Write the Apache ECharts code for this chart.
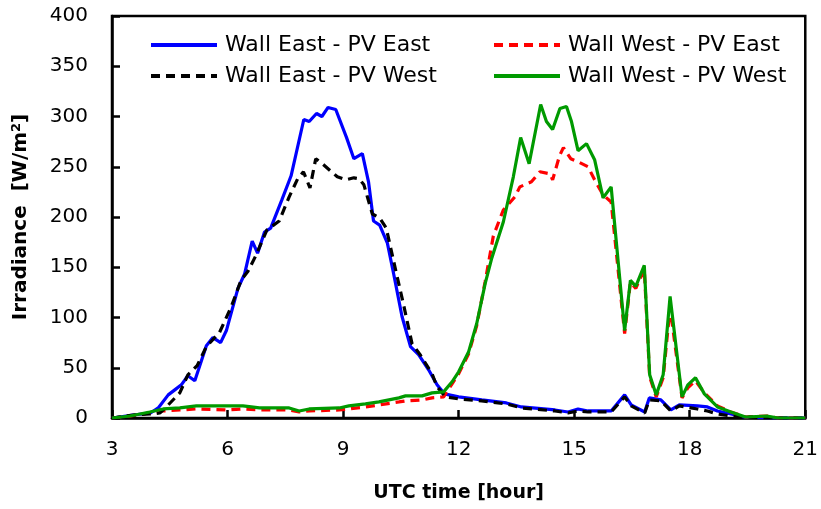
<!DOCTYPE html>
<html lang="en">
<head>
    <meta charset="UTF-8">
    <title>Irradiance</title>
    <script src="https://cdn.jsdelivr.net/npm/echarts@6/dist/echarts.min.js"></script>
</head>
<body style="margin:0">
<div id="main" style="width: 821px;height:509px;"></div>
<script type="text/javascript">
    // series: hour (UTC) and irradiance (W/m2)
    var eastEastT = [3.0, 3.55, 4.0, 4.2, 4.46, 4.63, 4.8, 4.97, 5.15, 5.45, 5.62, 5.82, 5.97, 6.27, 6.44, 6.64, 6.78, 6.96, 7.12, 7.41, 7.65, 7.98, 8.12, 8.31, 8.45, 8.61, 8.81, 9.09, 9.28, 9.5, 9.66, 9.79, 9.95, 10.15, 10.32, 10.53, 10.75, 10.96, 11.22, 11.44, 11.63, 12.0, 12.6, 13.24, 13.63, 14.5, 14.84, 15.1, 15.36, 15.96, 16.31, 16.48, 16.83, 16.95, 17.25, 17.51, 17.73, 18.2, 18.46, 18.72, 19.07, 19.41, 20.0, 21.0];
    var eastEastV = [0, 3, 5, 10, 23, 28, 33, 42, 37, 72, 80, 75, 87, 129, 143, 176, 164, 185, 189, 217, 241, 297, 295, 303, 300, 309, 307, 279, 258, 263, 235, 196, 192, 174, 142, 101, 71, 63, 48, 33, 24, 21, 18, 15, 11, 8, 6, 9, 7, 7, 23, 13, 6, 20, 18, 8, 13, 12, 11, 7, 4, 1, 0, 0];

    var eastWestT = [3.0, 3.55, 4.0, 4.24, 4.41, 4.76, 4.97, 5.21, 5.45, 5.79, 6.1, 6.35, 6.53, 6.74, 7.02, 7.34, 7.6, 7.82, 7.97, 8.14, 8.29, 8.46, 8.85, 9.07, 9.28, 9.42, 9.54, 9.76, 9.95, 10.12, 10.36, 10.58, 10.79, 11.0, 11.31, 11.44, 11.66, 12.0, 12.6, 13.24, 13.63, 14.5, 14.84, 15.1, 15.36, 15.96, 16.31, 16.48, 16.83, 16.95, 17.25, 17.51, 17.73, 18.2, 18.46, 18.72, 19.07, 19.41, 20.0, 21.0];
    var eastWestV = [0, 3, 4, 5, 11, 25, 43, 52, 71, 85, 111, 137, 146, 162, 187, 196, 220, 238, 245, 229, 258, 253, 240, 237, 239, 238, 232, 203, 199, 189, 148, 111, 74, 63, 44, 31, 21, 19, 17, 14, 10, 7, 5, 7, 6, 6, 21, 12, 5, 18, 17, 7, 12, 9, 7, 4, 2, 1, 0, 0];

    var westEastT = [3.0, 3.47, 3.98, 4.33, 4.76, 5.19, 6.0, 6.4, 6.83, 7.6, 7.86, 8.12, 8.9, 9.15, 9.58, 9.93, 10.45, 10.62, 11.05, 11.31, 11.61, 11.83, 12.0, 12.26, 12.47, 12.69, 12.9, 13.16, 13.46, 13.59, 13.89, 14.11, 14.37, 14.44, 14.62, 14.72, 14.91, 15.1, 15.36, 15.53, 15.75, 15.96, 16.31, 16.46, 16.6, 16.82, 16.96, 17.13, 17.31, 17.49, 17.8, 17.95, 18.15, 18.38, 18.72, 19.07, 19.45, 20.0, 20.3, 21.0];
    var westEastV = [0, 2, 5, 7, 8, 9, 8, 9, 8, 8, 6, 7, 8, 9, 11, 13, 16, 17, 18, 20, 21, 34, 44, 64, 92, 136, 181, 207, 220, 230, 235, 245, 243, 237, 261, 269, 258, 255, 250, 237, 222, 215, 84, 135, 129, 148, 41, 21, 40, 110, 20, 30, 37, 25, 12, 6, 1, 2, 0, 0];

    var westWestT = [3.0, 3.47, 3.98, 4.33, 4.76, 5.19, 6.4, 6.83, 7.6, 7.86, 8.12, 8.9, 9.15, 9.58, 9.93, 10.45, 10.62, 11.05, 11.31, 11.61, 11.83, 12.0, 12.26, 12.47, 12.69, 12.86, 12.95, 13.16, 13.42, 13.61, 13.83, 14.13, 14.28, 14.44, 14.63, 14.8, 14.93, 15.1, 15.32, 15.53, 15.75, 15.96, 16.31, 16.46, 16.6, 16.82, 16.96, 17.13, 17.31, 17.49, 17.8, 17.95, 18.15, 18.38, 18.72, 19.07, 19.45, 20.0, 20.3, 21.0];
    var westWestV = [0, 2, 6, 9, 10, 12, 12, 10, 10, 7, 9, 10, 12, 14, 16, 20, 22, 22, 25, 26, 36, 46, 66, 94, 134, 159, 170, 195, 240, 279, 253, 312, 295, 287, 308, 310, 295, 266, 273, 257, 219, 230, 87, 137, 131, 152, 43, 23, 43, 121, 21, 33, 40, 24, 11, 6, 1, 2, 0, 0];

    var seriesNames = ['Wall East - PV East', 'Wall East - PV West', 'Wall West - PV East', 'Wall West - PV West'];
    var xTicks = [3, 6, 9, 12, 15, 18, 21];

    function pairs(t, v) {
        return t.map(function (h, i) { return [h, v[i]]; });
    }

    var myChart = echarts.init(document.getElementById('main'));
    var font = 'DejaVu Sans';

    var legendBase = {
        orient: 'vertical',
        itemWidth: 66,
        itemHeight: 14,
        itemGap: 9,
        itemStyle: {opacity: 0},
        lineStyle: {width: 4},
        textStyle: {fontFamily: font, fontSize: 22, color: '#000', padding: [0, 0, 0, 3]}
    };

    option = {
        backgroundColor: '#fff',
        animation: false,
        textStyle: {fontFamily: font},
        grid: {
            left: 112, top: 16, right: 13, bottom: 91,
            show: true, borderColor: '#000', borderWidth: 2.5
        },
        legend: [
            Object.assign({left: 144, top: 29, data: [seriesNames[0], seriesNames[1]]}, legendBase),
            Object.assign({left: 487, top: 29, data: [seriesNames[2], seriesNames[3]]}, legendBase)
        ],
        xAxis: {
            type: 'value',
            min: 3, max: 21, interval: 3,
            name: 'UTC time [hour]',
            nameLocation: 'middle',
            nameGap: 66,
            nameTextStyle: {fontFamily: font, fontSize: 19, fontWeight: 'bold', color: '#000'},
            axisLine: {onZero: false, lineStyle: {color: '#000', width: 2.5}},
            axisTick: {inside: true, length: 8, lineStyle: {color: '#000', width: 2.5}},
            axisLabel: {
                fontFamily: font, fontSize: 20, color: '#000', margin: 22,
                formatter: function (v) { return xTicks.indexOf(v) >= 0 ? String(v) : ''; }
            },
            splitLine: {show: false}
        },
        yAxis: {
            type: 'value',
            min: 0, max: 400, interval: 50,
            name: 'Irradiance  [W/m{sup|2}]',
            nameLocation: 'middle',
            nameGap: 80,
            nameTextStyle: {
                fontFamily: font, fontSize: 20, fontWeight: 'bold', color: '#000',
                rich: {sup: {fontFamily: font, fontSize: 13, fontWeight: 'bold', color: '#000', verticalAlign: 'top', padding: [0, 0, 9, 0]}}
            },
            axisLine: {show: true, lineStyle: {color: '#000', width: 2.5}},
            axisTick: {show: true, inside: true, length: 8, lineStyle: {color: '#000', width: 2.5}},
            axisLabel: {fontFamily: font, fontSize: 20, color: '#000', margin: 24},
            splitLine: {show: false}
        },
        series: [
            {
                name: seriesNames[0], type: 'line', symbol: 'none',
                data: pairs(eastEastT, eastEastV),
                lineStyle: {color: '#0000ff', width: 3.2},
                itemStyle: {color: '#0000ff'}
            },
            {
                name: seriesNames[2], type: 'line', symbol: 'none',
                data: pairs(westEastT, westEastV),
                lineStyle: {color: '#ff0000', width: 3.2, type: [9, 6]},
                itemStyle: {color: '#ff0000'}
            },
            {
                name: seriesNames[1], type: 'line', symbol: 'none',
                data: pairs(eastWestT, eastWestV),
                lineStyle: {color: '#000000', width: 3.2, type: [9, 6]},
                itemStyle: {color: '#000000'}
            },
            {
                name: seriesNames[3], type: 'line', symbol: 'none',
                data: pairs(westWestT, westWestV),
                lineStyle: {color: '#009a00', width: 3.2},
                itemStyle: {color: '#009a00'}
            }
        ]
    };
    myChart.setOption(option);
</script>
</body>
</html>
